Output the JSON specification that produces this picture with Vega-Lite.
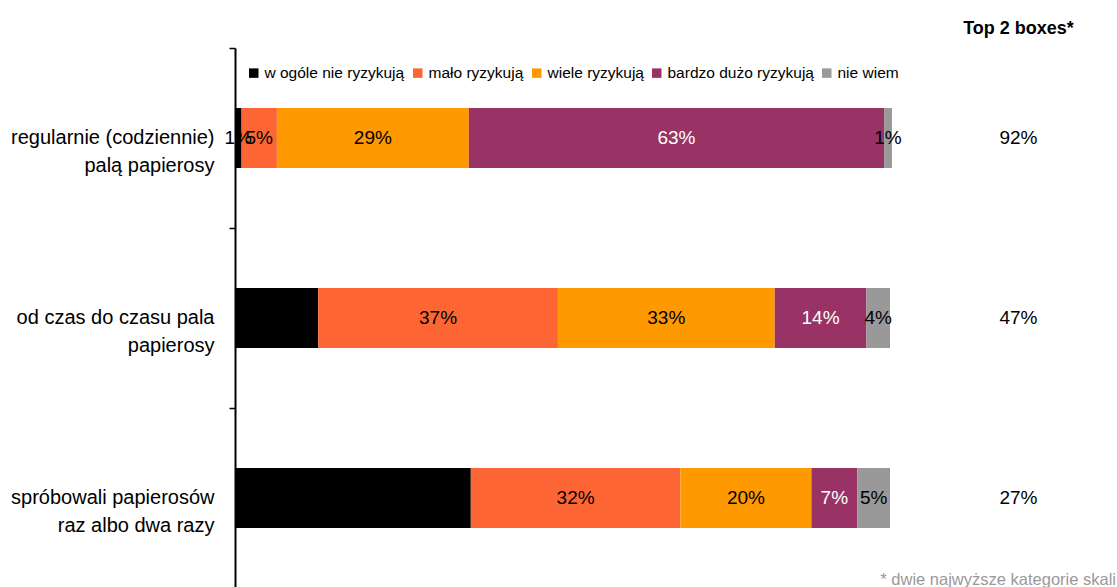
{
  "$schema": "https://vega.github.io/schema/vega-lite/v6.json",
  "background": "white",
  "padding": {"left": 10, "top": 20, "right": 0, "bottom": 0},
  "config": {
    "font": "Liberation Sans",
    "view": {"stroke": null},
    "concat": {"spacing": 51}
  },
  "bounds": "flush",
  "title": {
    "text": "* dwie najwyższe kategorie skali",
    "orient": "bottom",
    "anchor": "end",
    "offset": -17,
    "fontSize": 16.5,
    "fontWeight": "normal",
    "color": "#999999",
    "dx": 20
  },
  "datasets": {
    "segmenty": [
      {"grupa": "regularnie (codziennie)|palą papierosy", "kategoria": "w ogóle nie ryzykują", "nr": 1, "wartosc": 0.010},
      {"grupa": "regularnie (codziennie)|palą papierosy", "kategoria": "mało ryzykują", "nr": 2, "wartosc": 0.054},
      {"grupa": "regularnie (codziennie)|palą papierosy", "kategoria": "wiele ryzykują", "nr": 3, "wartosc": 0.293},
      {"grupa": "regularnie (codziennie)|palą papierosy", "kategoria": "bardzo dużo ryzykują", "nr": 4, "wartosc": 0.634},
      {"grupa": "regularnie (codziennie)|palą papierosy", "kategoria": "nie wiem", "nr": 5, "wartosc": 0.012},
      {"grupa": "od czas do czasu pala|papierosy", "kategoria": "w ogóle nie ryzykują", "nr": 1, "wartosc": 0.127},
      {"grupa": "od czas do czasu pala|papierosy", "kategoria": "mało ryzykują", "nr": 2, "wartosc": 0.366},
      {"grupa": "od czas do czasu pala|papierosy", "kategoria": "wiele ryzykują", "nr": 3, "wartosc": 0.331},
      {"grupa": "od czas do czasu pala|papierosy", "kategoria": "bardzo dużo ryzykują", "nr": 4, "wartosc": 0.140},
      {"grupa": "od czas do czasu pala|papierosy", "kategoria": "nie wiem", "nr": 5, "wartosc": 0.036},
      {"grupa": "spróbowali papierosów|raz albo dwa razy", "kategoria": "w ogóle nie ryzykują", "nr": 1, "wartosc": 0.360},
      {"grupa": "spróbowali papierosów|raz albo dwa razy", "kategoria": "mało ryzykują", "nr": 2, "wartosc": 0.320},
      {"grupa": "spróbowali papierosów|raz albo dwa razy", "kategoria": "wiele ryzykują", "nr": 3, "wartosc": 0.200},
      {"grupa": "spróbowali papierosów|raz albo dwa razy", "kategoria": "bardzo dużo ryzykują", "nr": 4, "wartosc": 0.070},
      {"grupa": "spróbowali papierosów|raz albo dwa razy", "kategoria": "nie wiem", "nr": 5, "wartosc": 0.050}
    ],
    "top2": [
      {"grupa": "regularnie (codziennie)|palą papierosy", "top2": 0.92},
      {"grupa": "od czas do czasu pala|papierosy", "top2": 0.47},
      {"grupa": "spróbowali papierosów|raz albo dwa razy", "top2": 0.27}
    ]
  },
  "hconcat": [
    {
      "width": 655,
      "height": 540,
      "data": {"name": "segmenty"},
      "encoding": {
        "y": {
          "field": "grupa",
          "type": "nominal",
          "sort": null,
          "scale": {"paddingInner": 0, "paddingOuter": 0},
          "axis": {
            "title": null,
            "labelExpr": "split(datum.label, '|')",
            "labelFontSize": 20,
            "labelColor": "#000000",
            "labelLineHeight": 28,
            "labelBaseline": "top",
            "labelOffset": -11,
            "labelPadding": 15,
            "labelLimit": 400,
            "tickBand": "extent",
            "tickSize": 6,
            "tickColor": "#000000",
            "tickWidth": 1.5,
            "domainColor": "#000000",
            "domainWidth": 2,
            "grid": false
          }
        },
        "x": {
          "field": "wartosc",
          "type": "quantitative",
          "stack": "zero",
          "scale": {"domain": [0, 1], "nice": false, "zero": true},
          "axis": null
        },
        "order": {"field": "nr", "type": "quantitative"}
      },
      "layer": [
        {
          "mark": {"type": "bar", "height": {"band": 0.3333}},
          "encoding": {
            "color": {
              "field": "kategoria",
              "type": "nominal",
              "sort": ["w ogóle nie ryzykują", "mało ryzykują", "wiele ryzykują", "bardzo dużo ryzykują", "nie wiem"],
              "scale": {
                "domain": ["w ogóle nie ryzykują", "mało ryzykują", "wiele ryzykują", "bardzo dużo ryzykują", "nie wiem"],
                "range": ["#000000", "#fd6634", "#ff9900", "#993366", "#999999"]
              },
              "legend": {
                "title": null,
                "orient": "none",
                "legendX": 11,
                "legendY": 17,
                "direction": "horizontal",
                "symbolType": "square",
                "symbolSize": 90,
                "symbolStrokeWidth": 0,
                "labelFontSize": 15.5,
                "labelColor": "#000000",
                "labelOffset": 3,
                "columnPadding": 5,
                "labelLimit": 300
              }
            }
          }
        },
        {
          "mark": {"type": "text", "fontSize": 19, "baseline": "middle", "align": "center"},
          "encoding": {
            "x": {"field": "wartosc", "type": "quantitative", "stack": "zero", "bandPosition": 0.5},
            "detail": {"field": "kategoria", "type": "nominal"},
            "text": {"field": "wartosc", "type": "quantitative", "format": ".0%"},
            "color": {
              "condition": {"test": "datum.kategoria === 'bardzo dużo ryzykują'", "value": "#ffffff"},
              "value": "#000000"
            }
          }
        }
      ]
    },
    {
      "width": 155,
      "height": 540,
      "data": {"name": "top2"},
      "title": {"text": "Top 2 boxes*", "fontSize": 18, "fontWeight": "bold", "anchor": "middle", "offset": 10, "color": "#000000"},
      "mark": {"type": "text", "fontSize": 19, "baseline": "middle", "align": "center", "color": "#000000"},
      "encoding": {
        "y": {
          "field": "grupa",
          "type": "nominal",
          "sort": null,
          "scale": {"paddingInner": 0, "paddingOuter": 0},
          "axis": null
        },
        "text": {"field": "top2", "type": "quantitative", "format": ".0%"}
      }
    }
  ]
}
